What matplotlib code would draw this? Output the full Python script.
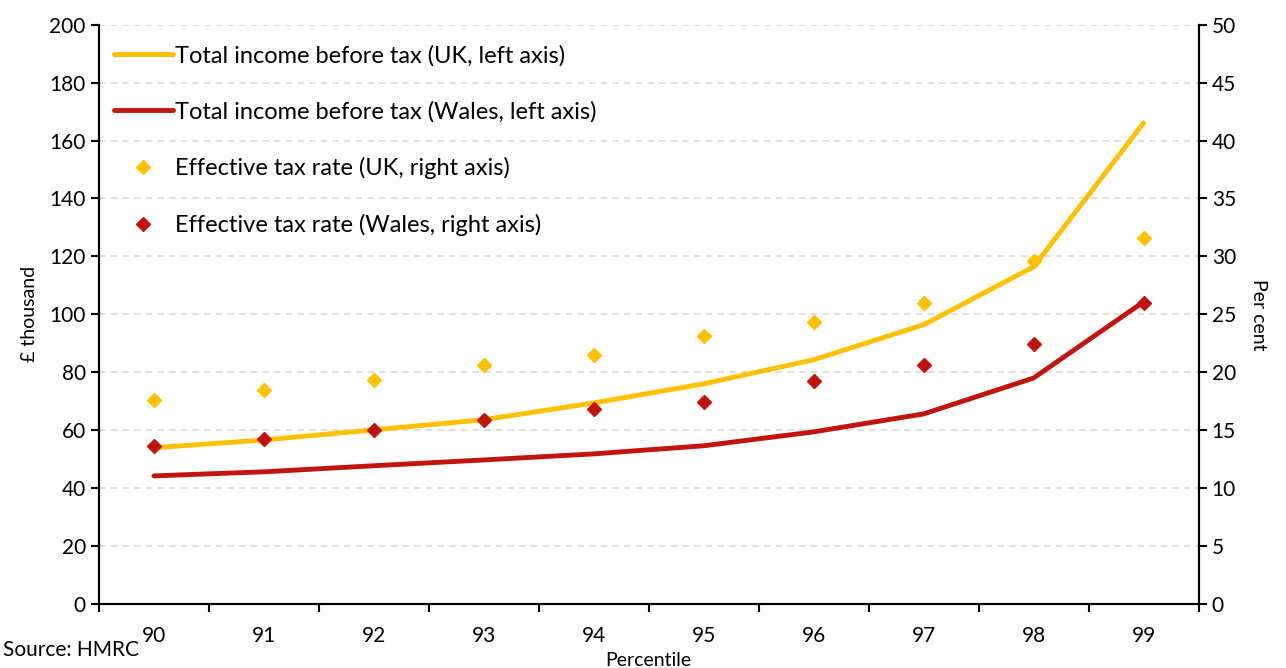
import matplotlib.pyplot as plt
from matplotlib.ticker import FixedLocator, MultipleLocator

plt.rcParams['font.family'] = ['Lato', 'DejaVu Sans']

percentiles = [90, 91, 92, 93, 94, 95, 96, 97, 98, 99]
income_uk = [53.9, 56.6, 60.1, 63.6, 69.4, 76.0, 84.3, 96.4, 116.4, 166.1]
income_wales = [44.2, 45.6, 47.7, 49.7, 51.8, 54.6, 59.4, 65.6, 78.0, 104.3]
tax_uk = [17.6, 18.5, 19.3, 20.6, 21.5, 23.1, 24.3, 26.0, 29.6, 31.6]
tax_wales = [13.6, 14.2, 15.0, 15.9, 16.8, 17.4, 19.2, 20.6, 22.4, 26.0]

yellow = '#FFC000'
red = '#C0140C'

fig, ax = plt.subplots(figsize=(12.86, 6.68), dpi=100)
fig.subplots_adjust(left=0.077, right=0.932, top=0.963, bottom=0.096)
ax2 = ax.twinx()

l1, = ax.plot(percentiles, income_uk, color=yellow, lw=3.5, solid_capstyle='round',
              label='Total income before tax (UK, left axis)')
l2, = ax.plot(percentiles, income_wales, color=red, lw=3.5, solid_capstyle='round',
              label='Total income before tax (Wales, left axis)')
m1, = ax2.plot(percentiles, tax_uk, ls='none', marker='D', ms=7, color=yellow,
               label='Effective tax rate (UK, right axis)')
m2, = ax2.plot(percentiles, tax_wales, ls='none', marker='D', ms=7, color=red,
               label='Effective tax rate (Wales, right axis)')

ax.set_xlim(89.5, 99.5)
ax.set_ylim(0, 200)
ax2.set_ylim(0, 50)
ax.yaxis.set_major_locator(MultipleLocator(20))
ax2.yaxis.set_major_locator(MultipleLocator(5))

# category axis: ticks at boundaries, labels at centres
ax.xaxis.set_major_locator(FixedLocator([p - 0.5 for p in percentiles] + [99.5]))
ax.xaxis.set_minor_locator(FixedLocator(percentiles))
ax.set_xticklabels([], minor=False)
ax.set_xticklabels([str(p) for p in percentiles], minor=True)
ax.tick_params(axis='x', which='major', length=6, width=1.5, direction='out')
ax.tick_params(axis='x', which='minor', length=0, pad=16, labelsize=15)
ax.tick_params(axis='y', length=6, width=1.5, labelsize=15)
ax2.tick_params(axis='y', length=6, width=1.5, labelsize=15)

ax.grid(axis='y', color='#d9d9d9', ls=(0, (4, 3)), lw=1.2)
ax.set_axisbelow(True)

for a in (ax, ax2):
    a.spines['top'].set_visible(False)
    for s in ('left', 'right', 'bottom'):
        a.spines[s].set_linewidth(1.5)

ax.set_ylabel('£ thousand', fontsize=14, labelpad=8)
ax2.set_ylabel('Per cent', fontsize=14, rotation=270, labelpad=22)
ax.set_xlabel('Percentile', fontsize=14, labelpad=4)

ax.legend(handles=[l1, l2, m1, m2], loc='upper left', bbox_to_anchor=(0.005, 0.982),
          frameon=False, fontsize=17, labelspacing=1.47, handlelength=2.5,
          handletextpad=0.1, borderaxespad=0.0)

fig.text(0.002, 0.012, 'Source: HMRC', fontsize=15, ha='left', va='bottom')

fig.savefig('out.png', dpi=100)
